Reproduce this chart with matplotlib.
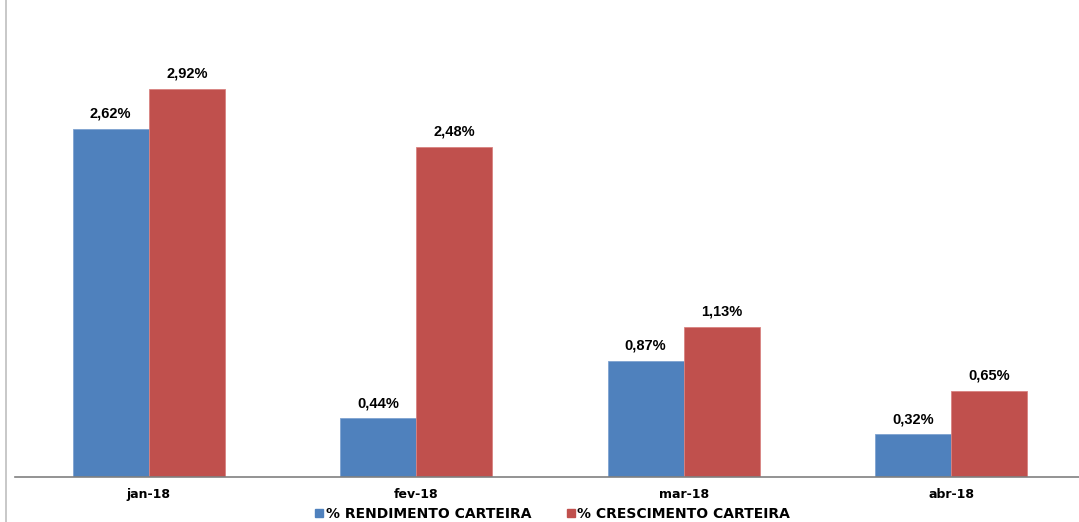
import matplotlib.pyplot as plt
from matplotlib.lines import Line2D
import numpy as np

# Data
months = ["jan-18", "fev-18", "mar-18", "abr-18"]
rendimento = [2.62, 0.44, 0.87, 0.32]
crescimento = [2.92, 2.48, 1.13, 0.65]
series_names = ["% RENDIMENTO CARTEIRA", "% CRESCIMENTO CARTEIRA"]

blue = '#4F81BD'
red = '#C0504D'

fig = plt.figure(figsize=(10.79, 5.22), dpi=100)
ax = fig.add_axes([15/1079, 45/522, 1070/1079, 477/522])

x = np.arange(len(months))
width = 0.285
bars1 = ax.bar(x - width/2, rendimento, width, color=blue, edgecolor='#7FA3D0', linewidth=0.6)
bars2 = ax.bar(x + width/2, crescimento, width, color=red, edgecolor='#D98380', linewidth=0.6)

ax.set_xlim(-0.5, 3.5)
ax.set_ylim(0, 477/133)

for spine in ['top', 'right', 'left']:
    ax.spines[spine].set_visible(False)
ax.spines['bottom'].set_color('#808080')
ax.spines['bottom'].set_linewidth(1.2)
ax.set_yticks([])
ax.set_xticks(x)
ax.set_xticklabels(months, fontweight='bold', fontsize=9)
ax.tick_params(axis='x', length=0, pad=8)

# Annotate bars
for bar in list(bars1) + list(bars2):
    h = bar.get_height()
    ax.annotate(f'{h:.2f}%'.replace('.', ','), (bar.get_x() + bar.get_width()/2, h),
                xytext=(0, 6), textcoords='offset points', ha='center', va='bottom',
                fontsize=10.5, fontweight='bold', family='Liberation Sans')

# Legend
handles = [Line2D([], [], marker='s', linestyle='', color=blue, markersize=6),
           Line2D([], [], marker='s', linestyle='', color=red, markersize=6)]
fig.legend(handles, series_names, loc='center', bbox_to_anchor=(552/1079, 1 - 514/522),
           ncol=2, frameon=False, prop={'weight': 'bold', 'size': 10},
           handletextpad=0.1, columnspacing=2.4, handlelength=0.8)

# left border line
fig.add_artist(Line2D([6/1079, 6/1079], [0, 1], color='#BFBFBF', linewidth=1.2))

fig.savefig('out.png', dpi=100)
